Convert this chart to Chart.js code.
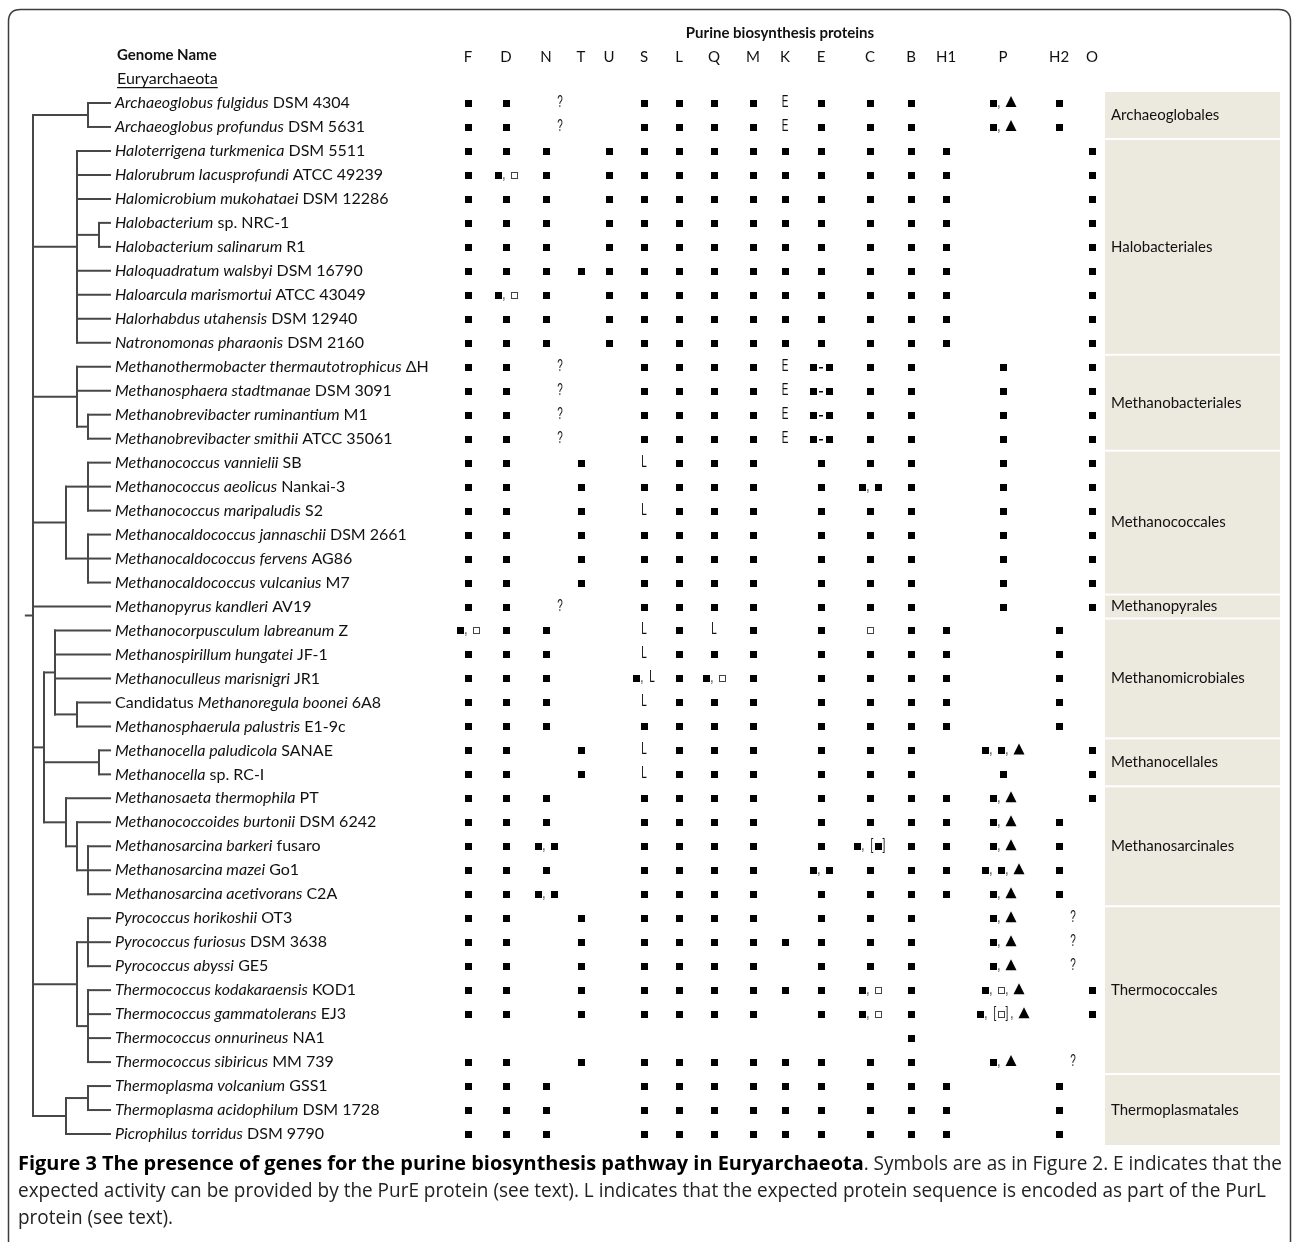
<!DOCTYPE html>
<html>
<head>
<meta charset="utf-8">
<title>Purine biosynthesis proteins in Euryarchaeota</title>
<script src="https://cdn.jsdelivr.net/npm/chart.js@4.4.1/dist/chart.umd.min.js"></script>
<style>
  html, body { margin: 0; padding: 0; background: #fff; }
  canvas { display: block; }
</style>
</head>
<body>
<canvas id="figure" width="1293" height="1242"></canvas>
<script>
// ---- data ----
const proteins = ['F', 'D', 'N', 'T', 'U', 'S', 'L', 'Q', 'M', 'K', 'E', 'C', 'B', 'H1', 'P', 'H2', 'O'];

// genome names, the part between * * is italic
const genomes = [
  '*Archaeoglobus fulgidus* DSM 4304',
  '*Archaeoglobus profundus* DSM 5631',
  '*Haloterrigena turkmenica* DSM 5511',
  '*Halorubrum lacusprofundi* ATCC 49239',
  '*Halomicrobium mukohataei* DSM 12286',
  '*Halobacterium* sp. NRC-1',
  '*Halobacterium salinarum* R1',
  '*Haloquadratum walsbyi* DSM 16790',
  '*Haloarcula marismortui* ATCC 43049',
  '*Halorhabdus utahensis* DSM 12940',
  '*Natronomonas pharaonis* DSM 2160',
  '*Methanothermobacter thermautotrophicus* \u0394H',
  '*Methanosphaera stadtmanae* DSM 3091',
  '*Methanobrevibacter ruminantium* M1',
  '*Methanobrevibacter smithii* ATCC 35061',
  '*Methanococcus vannielii* SB',
  '*Methanococcus aeolicus* Nankai-3',
  '*Methanococcus maripaludis* S2',
  '*Methanocaldococcus jannaschii* DSM 2661',
  '*Methanocaldococcus fervens* AG86',
  '*Methanocaldococcus vulcanius* M7',
  '*Methanopyrus kandleri* AV19',
  '*Methanocorpusculum labreanum* Z',
  '*Methanospirillum hungatei* JF-1',
  '*Methanoculleus marisnigri* JR1',
  'Candidatus *Methanoregula boonei* 6A8',
  '*Methanosphaerula palustris* E1-9c',
  '*Methanocella paludicola* SANAE',
  '*Methanocella* sp. RC-I',
  '*Methanosaeta thermophila* PT',
  '*Methanococcoides burtonii* DSM 6242',
  '*Methanosarcina barkeri* fusaro',
  '*Methanosarcina mazei* Go1',
  '*Methanosarcina acetivorans* C2A',
  '*Pyrococcus horikoshii* OT3',
  '*Pyrococcus furiosus* DSM 3638',
  '*Pyrococcus abyssi* GE5',
  '*Thermococcus kodakaraensis* KOD1',
  '*Thermococcus gammatolerans* EJ3',
  '*Thermococcus onnurineus* NA1',
  '*Thermococcus sibiricus* MM 739',
  '*Thermoplasma volcanium* GSS1',
  '*Thermoplasma acidophilum* DSM 1728',
  '*Picrophilus torridus* DSM 9790'
];

// one line per genome, cells in the order of proteins, separated by |
const presence = [
  '■|■|?|||■|■|■|■|E|■|■|■||■,▲|■|',
  '■|■|?|||■|■|■|■|E|■|■|■||■,▲|■|',
  '■|■|■||■|■|■|■|■|■|■|■|■|■|||■',
  '■|■,□|■||■|■|■|■|■|■|■|■|■|■|||■',
  '■|■|■||■|■|■|■|■|■|■|■|■|■|||■',
  '■|■|■||■|■|■|■|■|■|■|■|■|■|||■',
  '■|■|■||■|■|■|■|■|■|■|■|■|■|||■',
  '■|■|■|■|■|■|■|■|■|■|■|■|■|■|||■',
  '■|■,□|■||■|■|■|■|■|■|■|■|■|■|||■',
  '■|■|■||■|■|■|■|■|■|■|■|■|■|||■',
  '■|■|■||■|■|■|■|■|■|■|■|■|■|||■',
  '■|■|?|||■|■|■|■|E|■-■|■|■||■||■',
  '■|■|?|||■|■|■|■|E|■-■|■|■||■||■',
  '■|■|?|||■|■|■|■|E|■-■|■|■||■||■',
  '■|■|?|||■|■|■|■|E|■-■|■|■||■||■',
  '■|■||■||L|■|■|■||■|■|■||■||■',
  '■|■||■||■|■|■|■||■|■,■|■||■||■',
  '■|■||■||L|■|■|■||■|■|■||■||■',
  '■|■||■||■|■|■|■||■|■|■||■||■',
  '■|■||■||■|■|■|■||■|■|■||■||■',
  '■|■||■||■|■|■|■||■|■|■||■||■',
  '■|■|?|||■|■|■|■||■|■|■||■||■',
  '■,□|■|■|||L|■|L|■||■|□|■|■||■|',
  '■|■|■|||L|■|■|■||■|■|■|■||■|',
  '■|■|■|||■,L|■|■,□|■||■|■|■|■||■|',
  '■|■|■|||L|■|■|■||■|■|■|■||■|',
  '■|■|■|||■|■|■|■||■|■|■|■||■|',
  '■|■||■||L|■|■|■||■|■|■||■,■,▲||■',
  '■|■||■||L|■|■|■||■|■|■||■||■',
  '■|■|■|||■|■|■|■||■|■|■|■|■,▲||■',
  '■|■|■|||■|■|■|■||■|■|■|■|■,▲|■|',
  '■|■|■,■|||■|■|■|■||■|■,[■]|■|■|■,▲|■|',
  '■|■|■|||■|■|■|■||■,■|■|■|■|■,■,▲|■|',
  '■|■|■,■|||■|■|■|■||■|■|■|■|■,▲|■|',
  '■|■||■||■|■|■|■||■|■|■||■,▲|?|',
  '■|■||■||■|■|■|■|■|■|■|■||■,▲|?|',
  '■|■||■||■|■|■|■||■|■|■||■,▲|?|',
  '■|■||■||■|■|■|■|■|■|■,□|■||■,□,▲||■',
  '■|■||■||■|■|■|■||■|■,□|■||■,[□],▲||■',
  '||||||||||||■||||',
  '■|■||■||■|■|■|■|■|■|■|■||■,▲|?|',
  '■|■|■|||■|■|■|■|■|■|■|■|■||■|',
  '■|■|■|||■|■|■|■|■|■|■|■|■||■|',
  '■|■|■|||■|■|■|■|■|■|■|■|■||■|'
];

const orders = ['Archaeoglobales', 'Halobacteriales', 'Methanobacteriales', 'Methanococcales', 'Methanopyrales',
  'Methanomicrobiales', 'Methanocellales', 'Methanosarcinales', 'Thermococcales', 'Thermoplasmatales'];
const orderSizes = [2, 9, 4, 6, 1, 5, 2, 5, 7, 3];

// cladogram: [node level, ...children]; a number is a genome row
const tree = [7,
  [2, 0, 1],
  [3, 2, 3, 4, [1, 5, 6], 7, 8, 9, 10],
  [3, 11, 12, [2, 13, 14]],
  [4, [2, 15, 16, 17], [2, 18, 19, 20]],
  21,
  [6, [5, 22, 23, 24, [3, 25, 26]], [1, 27, 28], [4, 29, [3, 30, [2, 31, 32, 33]]]],
  [3, [2, 34, 35, 36], [2, 37, 38, 39, 40]],
  [4, [2, 41, 42], 43]
];

const tableTitle = 'Purine biosynthesis proteins';
const nameHeader = 'Genome Name';
const phylum = 'Euryarchaeota';
const captionTitle = 'Figure 3 The presence of genes for the purine biosynthesis pathway in Euryarchaeota';
const captionLines = [
  '. Symbols are as in Figure 2. E indicates that the',
  'expected activity can be provided by the PurE protein (see text). L indicates that the expected protein sequence is encoded as part of the PurL',
  'protein (see text).'
];

// ---- layout and style ----
const W = 1293, H = 1242;
const LAYOUT = {
  rowsTop: 91, rowsBottom: 1146,
  treeLeafPx: 110, treeLevelPx: 11, rootStub: 0.65,
  nameGap: 5,
  colStart: 449,
  colWidths: [38, 38, 42, 28, 28, 42, 28, 42, 36, 28, 44, 54, 28, 42, 72, 40, 26],
  orderLeft: 1105, orderRight: 1280,
  captionLeft: 18, captionRight: 1282, captionLine2Right: 1266, captionY: [1164, 1191, 1218],
  uncertainShift: 14
};
const STYLE = {
  text: '#111',
  tree: '#474747',
  frame: '#3c3c3c',
  orderFill: '#ece9df',
  open: '#444'
};
const FONT = {
  name: '16px Lato',
  bold: 'bold 15px Lato',
  column: '15px Lato',
  order: '15px Lato',
  symbol: '16px "Liberation Sans"',
  caption: '20px "Open Sans"',
  captionBold: 'bold 20px "Open Sans"'
};
const TOKEN_W = { '■': 7, '□': 7, '▲': 11, ',': 9, '-': 9, '[': 5, ']': 5 };

// table columns of different widths, like the columns of the original table
class TableColumnScale extends Chart.CategoryScale {
  getPixelForValue(value) {
    const i = typeof value === 'number' ? value : this.getLabels().indexOf(value);
    const w = this.options.columnWidths;
    let acc = 0;
    for (let k = 0; k < i; k++) acc += w[k];
    return this.left + this.options.columnStart + acc + w[i] / 2;
  }
}
TableColumnScale.id = 'tablecolumns';
TableColumnScale.defaults = Chart.CategoryScale.defaults;
Chart.register(TableColumnScale);

// ---- tree segments ----
const treeSegments = [];
function placeNode(node) {
  if (typeof node === 'number') return { level: 0, y: node };
  const level = node[0];
  const kids = node.slice(1).map(placeNode);
  const y0 = kids[0].y, y1 = kids[kids.length - 1].y;
  treeSegments.push([{ x: level, y: y0 }, { x: level, y: y1 }]);
  kids.forEach(k => treeSegments.push([{ x: level, y: k.y }, { x: k.level, y: k.y }]));
  return { level, y: (y0 + y1) / 2 };
}
const root = placeNode(tree);
treeSegments.push([{ x: root.level + LAYOUT.rootStub, y: root.y }, { x: root.level, y: root.y }]);

const treeDatasets = treeSegments.map(seg => ({
  data: seg,
  xAxisID: 'xTree',
  showLine: true,
  borderColor: STYLE.tree,
  borderWidth: 2,
  borderCapStyle: 'square',
  pointRadius: 0
}));

const cellPoints = [];
presence.forEach((row, r) => {
  row.split('|').forEach((s, c) => {
    if (s) cellPoints.push({ x: proteins[c], y: r, s });
  });
});
const cellDataset = { data: cellPoints, xAxisID: 'xCol', pointRadius: 0, showLine: false };

// ---- drawing helpers ----
function roundRectPath(ctx, x, y, w, h, r) {
  ctx.beginPath();
  ctx.moveTo(x + r, y);
  ctx.lineTo(x + w - r, y);
  ctx.quadraticCurveTo(x + w, y, x + w, y + r);
  ctx.lineTo(x + w, y + h - r);
  ctx.quadraticCurveTo(x + w, y + h, x + w - r, y + h);
  ctx.lineTo(x + r, y + h);
  ctx.quadraticCurveTo(x, y + h, x, y + h - r);
  ctx.lineTo(x, y + r);
  ctx.quadraticCurveTo(x, y, x + r, y);
  ctx.closePath();
}

function drawCell(ctx, str, cx, cy) {
  const toks = [...str];
  const total = toks.reduce((a, t) => a + (TOKEN_W[t] || 7), 0);
  let x = cx - total / 2 + (str === '?' ? LAYOUT.uncertainShift : 0);
  const base = cy + 4;
  toks.forEach(t => {
    const w = TOKEN_W[t] || 7;
    ctx.fillStyle = '#000';
    if (t === '■') {
      ctx.fillRect(Math.round(x), Math.round(cy - 3), 7, 7);
    } else if (t === '□') {
      ctx.strokeStyle = STYLE.open;
      ctx.lineWidth = 1;
      ctx.strokeRect(Math.round(x) + 0.5, Math.round(cy - 3) + 0.5, 6, 6);
    } else if (t === '▲') {
      ctx.beginPath();
      ctx.moveTo(x, base);
      ctx.lineTo(x + 11, base);
      ctx.lineTo(x + 5.5, base - 11);
      ctx.closePath();
      ctx.fill();
    } else if (t === '-') {
      ctx.fillRect(Math.round(x + 2.5), Math.round(cy), 4, 1.5);
    } else {
      ctx.save();
      ctx.font = FONT.symbol;
      ctx.textAlign = 'center';
      ctx.textBaseline = 'alphabetic';
      ctx.translate(x + w / 2 - (t === ',' ? 2 : 0), base);
      ctx.scale(0.62, 1);
      ctx.fillStyle = '#111';
      ctx.fillText(t, 0, 0);
      ctx.restore();
    }
    x += w;
  });
}

const figurePlugin = {
  id: 'figureText',
  beforeDatasetsDraw(chart) {
    const { ctx } = chart;
    const y = chart.scales.y;
    ctx.save();
    ctx.fillStyle = '#fff';
    ctx.fillRect(0, 0, W, H);
    ctx.strokeStyle = STYLE.frame;
    ctx.lineWidth = 1.5;
    roundRectPath(ctx, 8.5, 9.5, W - 11, H + 20, 12);
    ctx.stroke();

    let start = 0;
    orders.forEach((name, i) => {
      const end = start + orderSizes[i] - 1;
      const top = y.getPixelForValue(start - 0.5) + 1;
      const bottom = y.getPixelForValue(end + 0.5) - 1;
      ctx.fillStyle = STYLE.orderFill;
      ctx.fillRect(LAYOUT.orderLeft, top, LAYOUT.orderRight - LAYOUT.orderLeft, bottom - top);
      ctx.fillStyle = STYLE.text;
      ctx.font = FONT.order;
      ctx.textBaseline = 'middle';
      ctx.textAlign = 'left';
      ctx.fillText(name, LAYOUT.orderLeft + 6, (top + bottom) / 2);
      start = end + 1;
    });
    ctx.restore();
  },
  afterDatasetsDraw(chart) {
    const { ctx } = chart;
    const y = chart.scales.y, xCol = chart.scales.xCol, xTree = chart.scales.xTree;
    ctx.save();
    ctx.fillStyle = STYLE.text;
    ctx.textBaseline = 'middle';
    ctx.textAlign = 'left';

    // genome names
    const nameX = xTree.getPixelForValue(0) + LAYOUT.nameGap;
    genomes.forEach((g, r) => {
      let x = nameX;
      const yy = y.getPixelForValue(r);
      g.split('*').forEach((part, k) => {
        if (!part) return;
        ctx.font = (k % 2 ? 'italic ' : '') + FONT.name;
        ctx.fillText(part, x, yy);
        x += ctx.measureText(part).width;
      });
    });

    // header
    ctx.font = FONT.bold;
    ctx.fillText(nameHeader, nameX + 2, y.getPixelForValue(-2));
    ctx.font = FONT.name;
    const py = y.getPixelForValue(-1);
    ctx.fillText(phylum, nameX + 2, py);
    const pw = ctx.measureText(phylum).width;
    ctx.fillRect(nameX + 2, py + 8, pw, 1.2);

    ctx.textAlign = 'center';
    ctx.font = FONT.column;
    proteins.forEach(p => ctx.fillText(p, xCol.getPixelForValue(p), y.getPixelForValue(-1.92)));
    ctx.font = FONT.bold;
    const mid = (xCol.getPixelForValue(proteins[0]) + xCol.getPixelForValue(proteins[proteins.length - 1])) / 2;
    ctx.fillText(tableTitle, mid, y.getPixelForValue(-2.92));

    // cells
    const meta = chart.getDatasetMeta(chart.data.datasets.length - 1);
    meta.data.forEach((el, i) => drawCell(ctx, cellPoints[i].s, el.x, el.y));

    // caption: condensed, regular text fitted on line 2, bold title fills line 1
    ctx.textAlign = 'left';
    const widthOf = (text, font) => { ctx.font = font; return ctx.measureText(text).width; };
    const kr = (LAYOUT.captionLine2Right - LAYOUT.captionLeft) / widthOf(captionLines[1], FONT.caption);
    const reg1 = widthOf(captionLines[0], FONT.caption) * kr;
    const kb = (LAYOUT.captionRight - LAYOUT.captionLeft - reg1) / widthOf(captionTitle, FONT.captionBold);
    const drawRun = (text, font, k, x, yy, color) => {
      ctx.save();
      ctx.font = font;
      ctx.fillStyle = color;
      ctx.translate(x, yy);
      ctx.scale(k, 1);
      ctx.fillText(text, 0, 0);
      ctx.restore();
      return widthOf(text, font) * k;
    };
    let cx = LAYOUT.captionLeft;
    cx += drawRun(captionTitle, FONT.captionBold, kb, cx, LAYOUT.captionY[0], '#000');
    drawRun(captionLines[0], FONT.caption, kr, cx, LAYOUT.captionY[0], '#222');
    drawRun(captionLines[1], FONT.caption, kr, LAYOUT.captionLeft, LAYOUT.captionY[1], '#222');
    drawRun(captionLines[2], FONT.caption, kr, LAYOUT.captionLeft, LAYOUT.captionY[2], '#222');
    ctx.restore();
  }
};

const treeMax = LAYOUT.treeLeafPx / LAYOUT.treeLevelPx;
const chart = new Chart(document.getElementById('figure'), {
  type: 'scatter',
  data: { datasets: [...treeDatasets, cellDataset] },
  options: {
    responsive: false,
    animation: false,
    devicePixelRatio: 1,
    events: [],
    layout: { padding: { left: 0, right: 0, top: LAYOUT.rowsTop, bottom: H - LAYOUT.rowsBottom } },
    plugins: { legend: { display: false }, tooltip: { enabled: false } },
    scales: {
      xTree: {
        type: 'linear', axis: 'x', display: false, reverse: true,
        max: treeMax, min: treeMax - W / LAYOUT.treeLevelPx
      },
      xCol: {
        type: 'tablecolumns', axis: 'x', display: false, labels: proteins,
        columnStart: LAYOUT.colStart, columnWidths: LAYOUT.colWidths
      },
      y: { type: 'linear', display: false, reverse: true, min: -0.5, max: genomes.length - 0.5 }
    }
  },
  plugins: [figurePlugin]
});
</script>
</body>
</html>
